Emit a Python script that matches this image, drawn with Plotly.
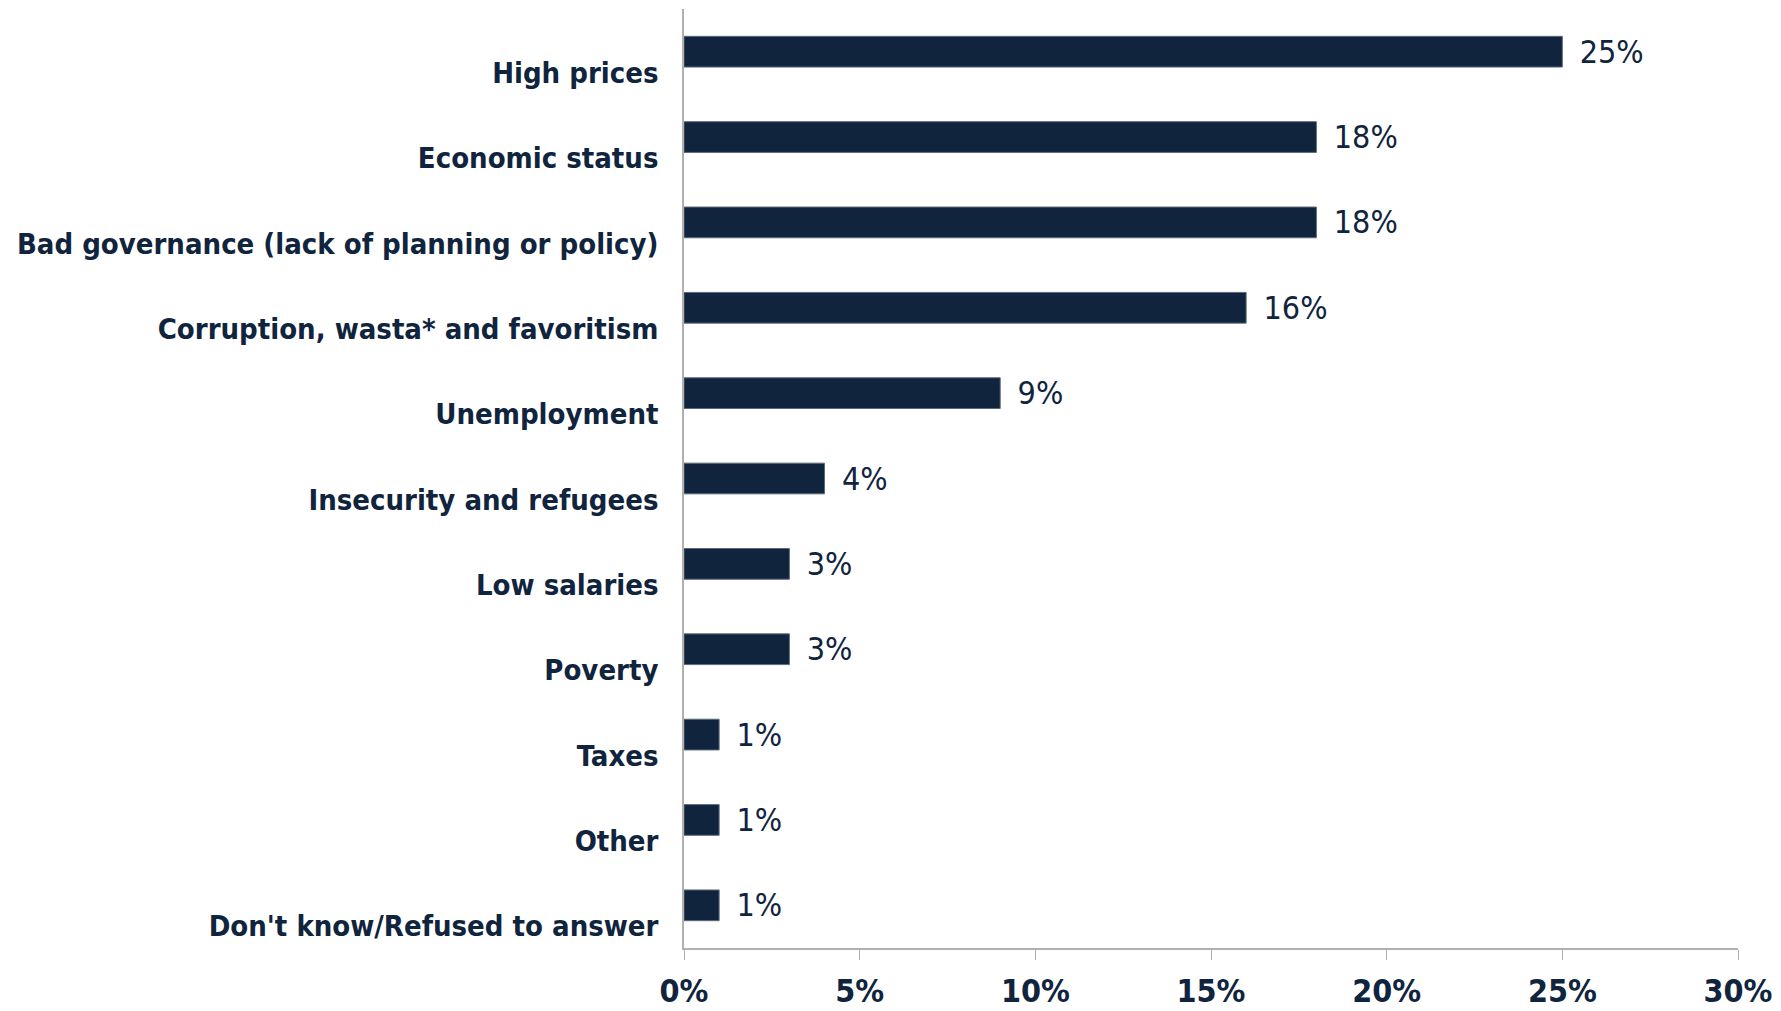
import plotly.graph_objects as go

# survey answers, top to bottom
categories = [
    'High prices',
    'Economic status',
    'Bad governance (lack of planning or policy)',
    'Corruption, wasta* and favoritism',
    'Unemployment',
    'Insecurity and refugees',
    'Low salaries',
    'Poverty',
    'Taxes',
    'Other',
    "Don't know/Refused to answer",
]
values = [25, 18, 18, 16, 9, 4, 3, 3, 1, 1, 1]  # unit: percent

x_ticks = [0, 5, 10, 15, 20, 25, 30]
x_tick_labels = ['0%', '5%', '10%', '15%', '20%', '25%', '30%']

NAVY = '#10243e'
GREY = '#b0b0b0'
FONT = 'DejaVu Sans Condensed, DejaVu Sans'

fig = go.Figure()

fig.add_trace(go.Bar(
    y=categories,
    x=values,
    orientation='h',
    width=0.36,
    marker=dict(color=NAVY, line=dict(color='#5c6b7c', width=1)),
    text=['\u2002' + str(v) + '%' for v in values],
    textposition='outside',
    constraintext='none',
    textfont=dict(family=FONT, size=32, color=NAVY),
    cliponaxis=False,
))

fig.update_layout(
    width=1781,
    height=1011,
    margin=dict(l=684, r=43, t=9, b=63, autoexpand=False),
    plot_bgcolor='white',
    paper_bgcolor='white',
    showlegend=False,
    xaxis=dict(
        range=[0, 30],
        tickvals=x_ticks,
        ticktext=x_tick_labels,
        showgrid=False,
        zeroline=False,
        showline=True,
        linecolor=GREY,
        linewidth=1.5,
        ticks='outside',
        ticklen=10,
        tickcolor=GREY,
        ticklabelstandoff=4,
        automargin=False,
        tickfont=dict(family=FONT, size=32, color=NAVY, weight='bold'),
    ),
    yaxis=dict(
        autorange='reversed',
        showgrid=False,
        zeroline=False,
        showline=True,
        linecolor=GREY,
        linewidth=1.5,
        ticks='',
        ticklabelstandoff=18,
        ticklabelshift=-21,
        automargin=False,
        tickfont=dict(family=FONT, size=29, color=NAVY, weight='bold'),
    ),
)

# drop the default page margin so the figure fills the window exactly
fig.write_html(
    'out.html',
    config={'displayModeBar': False},
    post_script="document.body.style.margin='0';document.body.style.overflow='hidden';",
)
